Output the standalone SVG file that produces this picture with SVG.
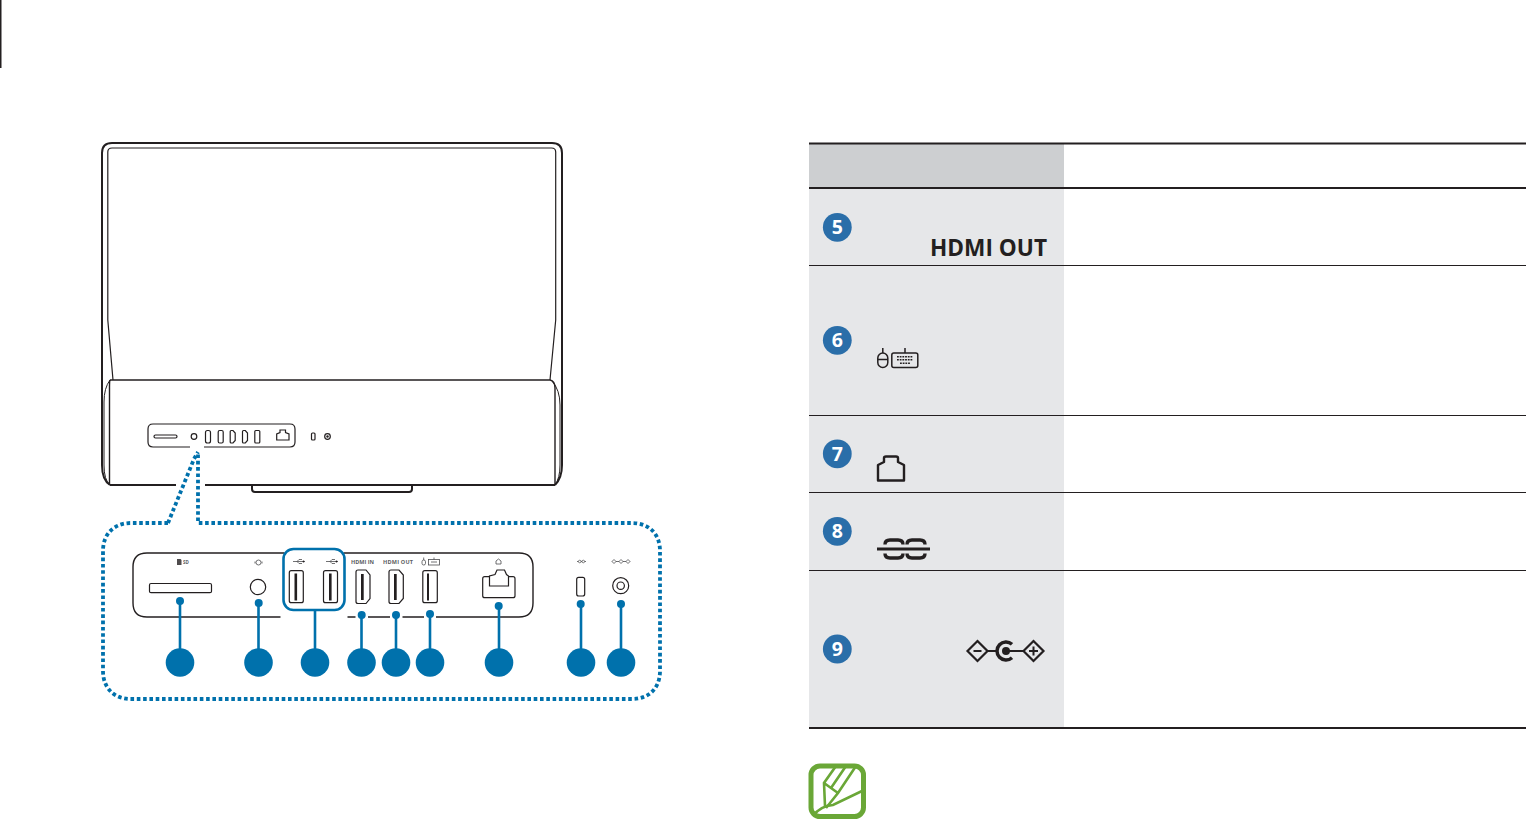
<svg xmlns="http://www.w3.org/2000/svg" width="1526" height="820" viewBox="0 0 1526 820">
<style>
.ln{fill:none;stroke:#231f20;stroke-width:1.2}
.fn{fill:none;stroke:#4d4d4f;stroke-width:.8}
.th{fill:none;stroke:#231f20;stroke-width:2}
.pt{fill:#fff;stroke:#231f20;stroke-width:1.2}
.bar{fill:#231f20;stroke:none}
.blue{fill:#0071ac;stroke:none}
.wire{stroke:#0071ac;stroke-width:2.6;fill:none}
.dots{fill:none;stroke:#0071ac;stroke-width:3.8;stroke-dasharray:3.6 2.7}
.lab{font-family:"Open Sans","Liberation Sans",sans-serif;font-size:5.5px;font-weight:700;fill:#58595b;opacity:.97}
.rule{stroke:#231f20;stroke-width:1.2}
.rulet{stroke:#231f20;stroke-width:2}
.num{font-family:"Open Sans","Liberation Sans",sans-serif;font-size:19.5px;font-weight:700;fill:#fff;text-anchor:middle}
.badge{fill:#2a6ea9}
.ic{fill:none;stroke:#231f20;stroke-width:1.5}
.gr{fill:none;stroke:#6aa737;stroke-width:2.6}
</style>
<rect width="1526" height="820" fill="#fff"/>
<rect x="0" y="0" width="1.5" height="68" fill="#231f20"/>

<g id="monitor">
<path class="th" d="M110 485Q102 480 102 465V153Q102 143 112 143H552Q562 143 562 153V465Q562 478 555 485"/>
<path class="ln" d="M113 380L107.800 320V152Q107.800 148 112 148H551.500Q555.700 148 555.700 152V320L550 380"/>
<path class="th" d="M110 485H176M205 485H555"/>
<path class="ln" d="M110 380H550Q555 381 555 388V485M110 380Q109.500 381 109.500 388V485" style="stroke-width:1.4"/>
<path class="ln" d="M110 380Q104 388 104 402V465Q104 480 110 485M552 381Q560 390 560 405V465Q560 478 555 485" style="stroke-width:1"/>
<path class="th" d="M252 486V489Q252 492 255 492H409Q412 492 412 489V486"/>
</g>

<g id="port-strip">
<path class="ln" d="M190 447H153Q148 447 148 442V429Q148 424 153 424H290Q295 424 295 429V442Q295 447 290 447H204"/>
<rect class="pt" x="154" y="435" width="23" height="3" rx="1.500"/>
<circle class="pt" cx="194" cy="436.500" r="2.800"/>
<rect class="pt" x="205.500" y="430.500" width="5" height="12.500" rx="2"/>
<rect class="pt" x="218.200" y="430.500" width="5" height="12.500" rx="1.500"/>
<path class="pt" d="M230.200 431.500Q230.200 430.500 231.200 430.500H233L235.200 433V440.500L233 443H231.200Q230.200 443 230.200 442Z"/>
<path class="pt" d="M242.500 431.500Q242.500 430.500 243.500 430.500H245.300L247.500 433V440.500L245.300 443H243.500Q242.500 443 242.500 442Z"/>
<rect class="pt" x="254.800" y="430.500" width="5" height="12.500" rx="1"/>
<path class="pt" d="M276.700 440V434L280 432.500V430H285.500V432.500L289 434V440Z"/>
<rect class="pt" x="311.500" y="433" width="3.500" height="7" rx="1"/>
<circle class="pt" cx="327.500" cy="436.500" r="2.800"/>
<circle class="bar" cx="327.500" cy="436.500" r="1.200"/>
</g>

<g id="callout-frame">
<path class="dots" d="M168 523H131C114 523 103 534 103 551V671C103 688 114 699 131 699H632C649 699 660 688 660 671V551C660 534 649 523 632 523H198V452"/>
<path class="dots" d="M168 523L194 459L198 452"/>
</g>

<g id="port-panel">
<path class="ln" style="stroke-width:1.400" d="M147 553H519Q533 553 533 567V603Q533 617 519 617H147Q133 617 133 603V567Q133 553 147 553Z"/>
<rect x="284.500" y="550.500" width="59" height="5" fill="#fff"/>
<rect x="280.500" y="606" width="67" height="14" fill="#fff"/>
<rect class="pt" x="149.500" y="583.500" width="62" height="9.200" rx="1.500"/>
<circle class="pt" cx="258" cy="587" r="7.700"/>
<rect class="pt" x="289.300" y="570.700" width="14" height="32" rx="2"/>
<rect class="bar" x="294.500" y="573.500" width="2.600" height="27"/>
<rect class="pt" x="323.500" y="570.700" width="14" height="32" rx="2"/>
<rect class="bar" x="329" y="573.500" width="2.600" height="27"/>
<path class="pt" d="M356 572Q356 570 358 570H366L370 575V598.500L366 603.500H358Q356 603.500 356 601.500Z"/>
<rect class="bar" x="361" y="574" width="2.700" height="26"/>
<path class="pt" d="M389 572Q389 570 391 570H399L403.300 575V598.500L399 603.500H391Q389 603.500 389 601.500Z"/>
<rect class="bar" x="394" y="574" width="2.700" height="26"/>
<rect class="pt" x="422.800" y="570.700" width="14.500" height="32" rx="2"/>
<rect class="bar" x="427" y="573.500" width="2" height="27"/>
<rect class="pt" x="482.700" y="576.700" width="32.300" height="21" rx="2"/>
<path class="pt" d="M489.500 586V576L495 574.500L497 570H504.500L506.500 574.500L508.500 576V586Z"/>
<rect class="pt" x="576.700" y="577.300" width="8" height="18.700" rx="2"/>
<circle class="pt" cx="620.700" cy="585.700" r="8"/>
<circle class="pt" cx="620.700" cy="585.700" r="3.700"/>
<path class="bar" d="M177 559H180.500L181.500 560V565H177Z" fill-opacity=".8"/>
<text class="lab" x="183" y="564" style="font-size:4.500px">SD</text>
<path class="fn" d="M256 562.500A2.500 2.500 0 0 1 261 562.500A2.500 2.500 0 0 1 256 562.500M255 561.500V563.500M262 561.500V563.500"/>
<path class="fn" d="M293 561.500H305M297 561.500L299 559.500H302M297 561.500L299 563.500H302"/>
<circle class="bar" cx="303.500" cy="561.500" r=".9"/>
<path class="fn" d="M326 561.500H338M330 561.500L332 559.500H335M330 561.500L332 563.500H335"/>
<circle class="bar" cx="336.500" cy="561.500" r=".9"/>
<text class="lab" x="351" y="563.500">HDMI IN</text>
<text class="lab" x="383" y="563.500" textLength="30">HDMI OUT</text>
<rect class="fn" x="422" y="560" width="3.500" height="5" rx="1.700"/>
<path class="fn" d="M423.700 560V557.500"/>
<rect class="fn" x="428.500" y="559.500" width="11" height="5.500"/>
<path class="fn" d="M434 559.500V557.500M431 562H437"/>
<path class="fn" d="M496 564V561L498.500 559L501 561V564Z"/>
<path class="fn" d="M577 561.500H586"/>
<circle cx="579.700" cy="561.500" r="1.300" fill="#fff" stroke="#4d4d4f" stroke-width=".7"/>
<circle cx="583.300" cy="561.500" r="1.300" fill="#fff" stroke="#4d4d4f" stroke-width=".7"/>
<path class="fn" d="M612 561.500H630"/>
<path d="M612 561.500L614 559.500L616 561.500L614 563.500ZM619 561.500L621 559.500L623 561.500L621 563.500ZM626 561.500L628 559.500L630 561.500L628 563.500Z" fill="#fff" stroke="#4d4d4f" stroke-width=".8"/>
</g>

<g id="connectors">
<rect x="283.500" y="549" width="61" height="61" rx="10" fill="none" stroke="#0071ac" stroke-width="2.600"/>
<rect x="355.500" y="613" width="12.500" height="7" fill="#fff"/>
<rect x="390" y="613" width="12.500" height="7" fill="#fff"/>
<rect x="424" y="613" width="12" height="7" fill="#fff"/>
<path class="wire" d="M180 601V650M258.500 603V650M315 610V650M361.500 615V650M396 615V650M430 614V650M499 606V650M581 604V650M621 604V650"/>
<circle class="blue" cx="180" cy="601" r="4"/>
<circle class="blue" cx="258.700" cy="603" r="4"/>
<circle class="blue" cx="361.700" cy="615" r="4"/>
<circle class="blue" cx="396" cy="615" r="4"/>
<circle class="blue" cx="430" cy="614" r="4"/>
<circle class="blue" cx="498.700" cy="606" r="4"/>
<circle class="blue" cx="580.700" cy="604" r="4"/>
<circle class="blue" cx="621" cy="604" r="4"/>
</g>
<g id="callouts">
<circle class="blue" cx="180" cy="662.500" r="14.300"/>
<circle class="blue" cx="258.500" cy="662.500" r="14.300"/>
<circle class="blue" cx="315" cy="662.500" r="14.300"/>
<circle class="blue" cx="361.500" cy="662.500" r="14.300"/>
<circle class="blue" cx="396" cy="662.500" r="14.300"/>
<circle class="blue" cx="430" cy="662.500" r="14.300"/>
<circle class="blue" cx="499" cy="662.500" r="14.300"/>
<circle class="blue" cx="581" cy="662.500" r="14.300"/>
<circle class="blue" cx="621" cy="662.500" r="14.300"/>
</g>

<g id="table">
<rect x="809" y="143" width="255" height="45" fill="#cdcfd1"/>
<rect x="809" y="188" width="255" height="540" fill="#e6e7e9"/>
<path class="rulet" d="M809 143.500H1526M809 188H1526M809 728H1526"/>
<path class="rule" d="M809 265.500H1526M809 415.500H1526M809 492.500H1526M809 570.500H1526"/>
</g>

<g id="row-5">
<circle class="badge" cx="837.300" cy="227.300" r="14.400"/>
<text class="num" x="837.300" y="234.200">5</text>
<text x="930" y="256" font-family="Open Sans, Liberation Sans, sans-serif" font-size="23" font-weight="700" fill="#231f20" textLength="117" lengthAdjust="spacingAndGlyphs">HDMI OUT</text>
</g>
<g id="row-6">
<circle class="badge" cx="837.300" cy="340.300" r="14.400"/>
<text class="num" x="837.300" y="347.200">6</text>
<rect class="ic" x="877.800" y="353" width="10" height="14.500" rx="5"/>
<path class="ic" d="M882.800 353V348M877.800 359.500H887.800"/>
<rect class="ic" x="891.800" y="353" width="26" height="14.500" rx="2"/>
<path class="ic" d="M905 353V348"/>
<path d="M897 356.800H913M897 359.800H913M900 363.200H910" stroke="#231f20" stroke-width="1.600" stroke-dasharray="1.800 .9" fill="none"/>
</g>
<g id="row-7">
<circle class="badge" cx="837.300" cy="453.800" r="14.400"/>
<text class="num" x="837.300" y="460.700">7</text>
<path d="M878 480.500V465L884 462V458Q884 456.500 886 456.500H896Q898 456.500 898 458V462L904 465V480.500Z" fill="none" stroke="#231f20" stroke-width="2.400" stroke-linejoin="round"/>
</g>
<g id="row-8">
<circle class="badge" cx="837.300" cy="531.300" r="14.400"/>
<text class="num" x="837.300" y="538.200">8</text>
<path d="M877 549H930" stroke="#231f20" stroke-width="3" fill="none"/>
<path d="M885 544.500Q885 540 890 540H898Q903 540 903 544.500M885 553.500Q885 558 890 558H898Q903 558 903 553.500M907 544.500Q907 540 912 540H920Q925 540 925 544.500M907 553.500Q907 558 912 558H920Q925 558 925 553.500" stroke="#231f20" stroke-width="3.400" fill="none"/>
</g>
<g id="row-9">
<circle class="badge" cx="837.300" cy="649" r="14.400"/>
<text class="num" x="837.300" y="655.900">9</text>
<path d="M967.500 651L977.500 641L987.500 651L977.500 661Z" fill="none" stroke="#231f20" stroke-width="2.200"/>
<path d="M973.500 651H981.500" stroke="#231f20" stroke-width="2"/>
<path d="M1023.500 651L1033.500 641L1043.500 651L1033.500 661Z" fill="none" stroke="#231f20" stroke-width="2.200"/>
<path d="M1029 651H1038M1033.500 646.500V655.500" stroke="#231f20" stroke-width="2"/>
<path d="M1012 644.300A9 9 0 1 0 1012 657.700" fill="none" stroke="#231f20" stroke-width="3.500"/>
<circle cx="1006" cy="651" r="4" fill="#231f20"/>
<path d="M987 651H998M1006 651H1024" stroke="#231f20" stroke-width="2"/>
</g>

<g id="note-icon">
<rect x="811" y="766" width="52.500" height="50.500" rx="9" fill="none" stroke="#6aa737" stroke-width="5"/>
<path class="gr" d="M836 766L824 783L825 806M856 766L838 793L826 808M846 766L831 788M824 783L838 793"/>
<path class="gr" d="M813 816Q820 806 833 805L862 791"/>
</g>
</svg>
